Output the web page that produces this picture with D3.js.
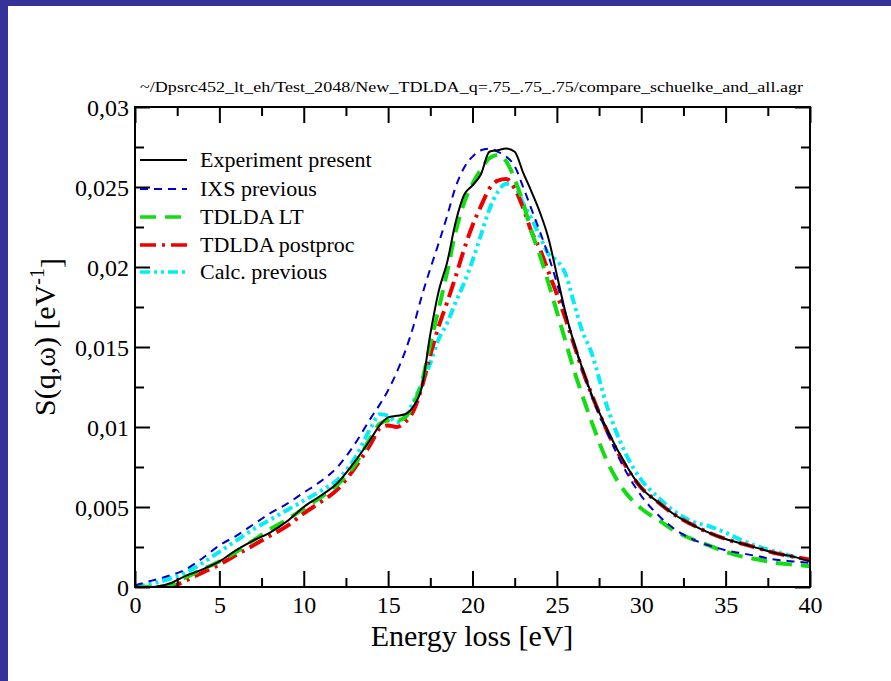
<!DOCTYPE html>
<html>
<head>
<meta charset="utf-8">
<script src="https://cdn.jsdelivr.net/npm/d3@7"></script>
<style>
  body { margin: 0; background: #fff; }
  svg text { font-family: "Liberation Serif", "Times New Roman", Times, serif; }
</style>
</head>
<body>
<div id="my_dataviz"></div>
<script>
// energy grid (eV) shared by all curves
var energy = [0,1,2,3,4,5,6,7,8,9,10,11,12,13,14,14.5,15,15.5,16,16.5,17,17.5,18,18.5,19,19.5,
  20,20.5,21,21.5,22,22.5,23,23.5,24,24.5,25,25.5,26,26.5,27,28,29,30,31,32,33,34,35,36,37,38,39,40];

var experiment = [0,0,0.0002,0.0007,0.0011,0.0016,0.0023,0.0029,0.0034,0.0041,0.0050,0.0057,0.0065,0.0078,0.0093,0.0101,0.0106,0.0107,0.0108,0.0113,0.0125,0.0158,0.0185,0.0203,0.0228,0.0245,
  0.0251,0.0258,0.0272,0.0273,0.0274,0.0272,0.0259,0.0247,0.0234,0.0218,0.0195,0.0172,0.0153,0.0137,0.0122,0.0098,0.0078,0.0062,0.0053,0.0045,0.0039,0.0034,0.0030,0.0027,0.0024,0.0021,0.0019,0.0016];

var ixs = [0.0001,0.0004,0.0007,0.0011,0.0018,0.0026,0.0032,0.0039,0.0046,0.0052,0.0059,0.0066,0.0075,0.0089,0.0106,0.0114,0.0123,0.0134,0.0147,0.0163,0.0182,0.0199,0.0215,0.0232,0.0250,0.0262,
  0.0269,0.0273,0.0274,0.0272,0.0269,0.0263,0.0250,0.0236,0.0222,0.0207,0.0190,0.0171,0.0153,0.0136,0.0121,0.0096,0.0074,0.0057,0.0045,0.0036,0.0030,0.0026,0.0023,0.0021,0.0019,0.0017,0.0016,0.0015];

var tdldaLT = [0,0,0.0001,0.0006,0.0011,0.0016,0.0022,0.0029,0.0036,0.0042,0.0049,0.0056,0.0064,0.0076,0.0094,0.0102,0.0104,0.0104,0.0106,0.0114,0.0128,0.0152,0.0174,0.0197,0.0222,0.0240,
  0.0252,0.0261,0.0268,0.0270,0.0266,0.0255,0.0240,0.0222,0.0207,0.0190,0.0172,0.0154,0.0136,0.0120,0.0105,0.0078,0.0060,0.0049,0.0042,0.0035,0.0030,0.0026,0.0022,0.0019,0.0017,0.0015,0.0014,0.0013];

var tdldaPost = [0,0,0,0.0004,0.0009,0.0014,0.0020,0.0026,0.0032,0.0038,0.0046,0.0053,0.0061,0.0074,0.0090,0.0099,0.0101,0.0100,0.0103,0.0110,0.0125,0.0145,0.0163,0.0178,0.0194,0.0211,
  0.0226,0.0238,0.0249,0.0254,0.0255,0.0249,0.0237,0.0222,0.0211,0.0197,0.0183,0.0168,0.0152,0.0136,0.0122,0.0097,0.0077,0.0062,0.0053,0.0045,0.0039,0.0034,0.0030,0.0027,0.0024,0.0021,0.0019,0.0017];

var calcPrev = [0,0.0002,0.0005,0.0009,0.0015,0.0022,0.0029,0.0036,0.0042,0.0048,0.0054,0.0060,0.0067,0.0080,0.0100,0.0108,0.0107,0.0103,0.0106,0.0116,0.0127,0.0140,0.0155,0.0165,0.0178,0.0190,
  0.0204,0.0220,0.0236,0.0247,0.0252,0.0250,0.0240,0.0230,0.0219,0.0208,0.0204,0.0196,0.0178,0.0160,0.0148,0.0112,0.0085,0.0067,0.0056,0.0047,0.0041,0.0038,0.0034,0.0029,0.0025,0.0022,0.0019,0.0017];

var seriesNames = ["Experiment present", "IXS previous", "TDLDA LT", "TDLDA postproc", "Calc. previous"];
var seriesValues = [experiment, ixs, tdldaLT, tdldaPost, calcPrev];
var seriesColors = ["#000000", "#0000cc", "#11dd11", "#ee0000", "#00eef5"];
var seriesDash = [null, "8,6", "16,9", "16,6,3,6", "10,4,3,4,3,4"];
var seriesWidth = [2, 2, 4, 4, 4];

var xTicks = [0,5,10,15,20,25,30,35,40];
var yTicks = [0,0.005,0.01,0.015,0.02,0.025,0.03];
var yTickLabels = ["0","0,005","0,01","0,015","0,02","0,025","0,03"];

var titleText = "~/Dpsrc452_lt_eh/Test_2048/New_TDLDA_q=.75_.75_.75/compare_schuelke_and_all.agr";

var serif = "'Liberation Serif', 'Times New Roman', Times, serif";

// page size and plot box
var W = 891, H = 681;
var margin = {top: 107, right: 81, bottom: 94, left: 135},
    width = W - margin.left - margin.right,
    height = H - margin.top - margin.bottom;

var svg = d3.select("#my_dataviz")
  .append("svg")
    .attr("width", W)
    .attr("height", H);

// slide frame (blue bands on top and left)
svg.append("rect").attr("x", 0).attr("y", 0).attr("width", W).attr("height", 6).attr("fill", "#333399");
svg.append("rect").attr("x", 0).attr("y", 0).attr("width", 8).attr("height", H).attr("fill", "#333399");

var g = svg.append("g")
    .attr("transform", "translate(" + margin.left + "," + margin.top + ")");

var x = d3.scaleLinear().domain([0, 40]).range([0, width]);
var y = d3.scaleLinear().domain([0, 0.03]).range([height, 0]);

// curves
var line = d3.line()
  .x(function(d) { return x(d[0]) })
  .y(function(d) { return y(d[1]) })
  .curve(d3.curveMonotoneX);

g.append("clipPath").attr("id", "plotclip")
  .append("rect").attr("x", 0).attr("y", 0).attr("width", width).attr("height", height);

var curves = g.append("g").attr("clip-path", "url(#plotclip)");
// draw in the order that puts experiment on top
[4, 3, 2, 1, 0].forEach(function(i) {
  curves.append("path")
    .datum(energy.map(function(e, k) { return [e, seriesValues[i][k]] }))
    .attr("d", line)
    .attr("fill", "none")
    .attr("stroke", seriesColors[i])
    .attr("stroke-width", seriesWidth[i])
    .attr("stroke-dasharray", seriesDash[i])
    .attr("stroke-linejoin", "round");
});

// axes: ticks point inwards on all four sides
var xMinor = d3.range(2.5, 40, 5);
var yMinor = d3.range(0.0025, 0.03, 0.005);

var bottomAxis = g.append("g")
  .attr("transform", "translate(0," + height + ")")
  .call(d3.axisBottom(x).tickValues(xTicks).tickSizeInner(-16).tickSizeOuter(0).tickPadding(14).tickFormat(d3.format("d")));
g.append("g")
  .attr("transform", "translate(0," + height + ")")
  .call(d3.axisBottom(x).tickValues(xMinor).tickSize(-9).tickFormat(""));
g.append("g")
  .call(d3.axisTop(x).tickValues(xTicks).tickSize(-16).tickFormat(""));
g.append("g")
  .call(d3.axisTop(x).tickValues(xMinor).tickSize(-9).tickFormat(""));

var leftAxis = g.append("g")
  .call(d3.axisLeft(y).tickValues(yTicks).tickSizeInner(-15).tickSizeOuter(0).tickPadding(6)
    .tickFormat(function(d, i) { return yTickLabels[i] }));
g.append("g")
  .call(d3.axisLeft(y).tickValues(yMinor).tickSize(-9).tickFormat(""));
g.append("g")
  .attr("transform", "translate(" + width + ",0)")
  .call(d3.axisRight(y).tickValues(yTicks).tickSize(-15).tickFormat(""));
g.append("g")
  .attr("transform", "translate(" + width + ",0)")
  .call(d3.axisRight(y).tickValues(yMinor).tickSize(-9).tickFormat(""));

g.selectAll(".domain").remove();
g.selectAll(".tick line").attr("stroke", "#000").attr("stroke-width", 2);
g.selectAll("g").attr("font-family", serif);
g.selectAll(".tick text")
  .attr("fill", "#000")
  .style("font-family", serif)
  .style("font-size", "24px");
bottomAxis.selectAll(".tick text").attr("dy", "0.5em");
leftAxis.selectAll(".tick text").attr("dy", "0.35em");

// frame
g.append("rect")
  .attr("x", 0).attr("y", 0)
  .attr("width", width).attr("height", height)
  .attr("fill", "none")
  .attr("stroke", "#000")
  .attr("stroke-width", 2);

// title (file path)
svg.append("text")
  .attr("x", 140)
  .attr("y", 92)
  .attr("textLength", 663)
  .attr("lengthAdjust", "spacingAndGlyphs")
  .style("font-family", serif)
  .style("font-size", "15px")
  .attr("fill", "#000")
  .text(titleText);

// axis titles
svg.append("text")
  .attr("x", 472)
  .attr("y", 646)
  .attr("text-anchor", "middle")
  .style("font-family", serif)
  .style("font-size", "30px")
  .attr("fill", "#000")
  .text("Energy loss [eV]");

var yLabel = svg.append("text")
  .attr("transform", "translate(55,337) rotate(-90)")
  .attr("text-anchor", "middle")
  .style("font-family", serif)
  .style("font-size", "30px")
  .attr("fill", "#000");
yLabel.append("tspan").text("S(q,ω) [eV");
yLabel.append("tspan").attr("dy", "-0.55em").style("font-size", "20px").text("-1");
yLabel.append("tspan").attr("dy", "0.55em").text("]");

// legend
var legendY = [160, 189, 217, 245, 272];
var legend = svg.append("g");
seriesNames.forEach(function(name, i) {
  legend.append("line")
    .attr("x1", 140).attr("x2", 187)
    .attr("y1", legendY[i]).attr("y2", legendY[i])
    .attr("stroke", seriesColors[i])
    .attr("stroke-width", seriesWidth[i] === 2 ? 2 : 3.5)
    .attr("stroke-dasharray", seriesDash[i]);
  legend.append("text")
    .attr("x", 200)
    .attr("y", legendY[i] + 7)
    .style("font-family", serif)
    .style("font-size", "22px")
    .attr("fill", "#000")
    .text(name);
});
</script>
</body>
</html>
